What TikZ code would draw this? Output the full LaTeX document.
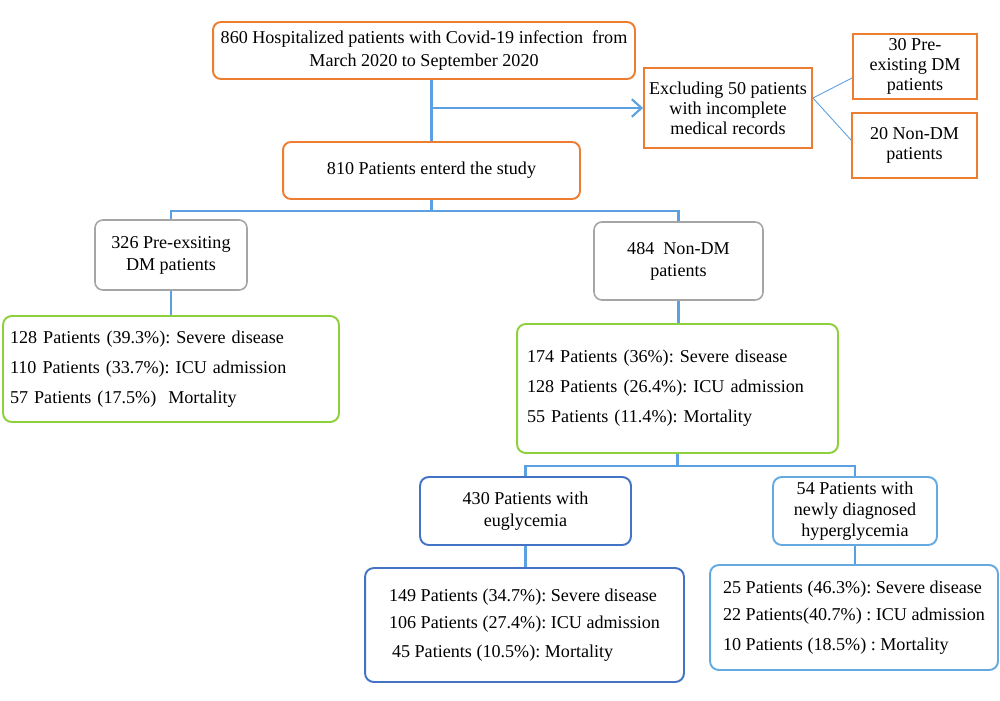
\documentclass[tikz,border=0pt]{standalone}
\usepackage{fontspec}
\setmainfont{Liberation Serif}
\frenchspacing
\usetikzlibrary{arrows.meta}
\definecolor{orng}{RGB}{237,125,49}
\definecolor{grybox}{RGB}{165,165,165}
\definecolor{grn}{RGB}{140,208,60}
\definecolor{dblue}{RGB}{68,114,196}
\definecolor{lblue}{RGB}{100,170,225}
\definecolor{conn}{RGB}{91,160,225}
\tikzset{
  every node/.style={font=\fontsize{10.3}{12.6}\selectfont, text=black},
  obox/.style={draw=orng, line width=1.1pt, rounded corners=4.5pt, align=center, inner sep=0pt},
  osq/.style={draw=orng, line width=1.1pt, align=center, inner sep=0pt, font=\fontsize{10.3}{11.4}\selectfont},
  gbox/.style={draw=grybox, line width=0.9pt, rounded corners=4.5pt, align=center, inner sep=0pt},
  grbox/.style={draw=grn, line width=1.1pt, rounded corners=5pt, align=left},
  dbbox/.style={draw=dblue, line width=1.1pt, rounded corners=5pt},
  lbbox/.style={draw=lblue, line width=1.1pt, rounded corners=5pt},
  link/.style={draw=conn, line width=1.2pt},
  thin/.style={draw=conn, line width=0.5pt},
}
\begin{document}
\begin{tikzpicture}[x=0.02cm, y=-0.02cm]
\useasboundingbox (0,0) rectangle (1000,700);
% top
\node[obox, minimum width=8.44cm, minimum height=1.14cm] (top) at (424,50.5)
  {860 Hospitalized patients with Covid-19 infection\ \ from\\March 2020 to September 2020};
\node[osq, minimum width=3.36cm, minimum height=1.6cm] (excl) at (728,108)
  {Excluding 50 patients\\with incomplete\\medical records};
\node[osq, minimum width=2.48cm, minimum height=1.3cm] (exdm) at (915,66.5)
  {30 Pre-\\existing DM\\patients};
\node[osq, minimum width=2.5cm, minimum height=1.3cm] (exnd) at (914.5,145.5)
  {20 Non-DM\\patients};
\node[obox, minimum width=5.94cm, minimum height=1.14cm] (study) at (431.5,170.5)
  {810 Patients enterd the study};
\node[gbox, minimum width=3.04cm, minimum height=1.4cm] (dm) at (171,255)
  {326 Pre-exsiting\\DM patients};
\node[gbox, minimum width=3.38cm, minimum height=1.56cm] (ndm) at (678.5,261)
  {484\ \ Non-DM\\patients};
\node[grbox, inner xsep=0.14cm, text width=6.44cm, minimum height=2.12cm] (dmres) at (171,369)
  {128 Patients (39.3\%): Severe disease\\[4.4pt]110 Patients (33.7\%): ICU admission\\[4.4pt]57 Patients (17.5\%)\ \ Mortality};
\node[grbox, inner xsep=0.2cm, text width=6.02cm, minimum height=2.58cm] (ndmres) at (677.5,388.5)
  {174 Patients (36\%): Severe disease\\[4.4pt]128 Patients (26.4\%): ICU admission\\[4.4pt]55 Patients (11.4\%): Mortality};
\node[dbbox, align=center, inner sep=0pt, minimum width=4.22cm, minimum height=1.36cm] (eu) at (525.5,511)
  {430 Patients with\\euglycemia};
\node[lbbox, align=center, inner sep=0pt, font=\fontsize{10.3}{12}\selectfont, minimum width=3.28cm, minimum height=1.36cm] (hyp) at (855,511)
  {54 Patients with\\newly diagnosed\\hyperglycemia};
\node[dbbox, align=left, inner sep=0pt, minimum width=6.38cm, minimum height=2.28cm] (eures) at (524.5,625)
  {149 Patients (34.7\%): Severe disease\\[2.7pt]106 Patients (27.4\%): ICU admission\\[3.8pt]\,45 Patients (10.5\%): Mortality};
\node[lbbox, align=left, inner sep=0pt, minimum width=5.76cm, minimum height=2.1cm] (hypres) at (854,617.5)
  {25 Patients (46.3\%): Severe disease\\[2.7pt]22 Patients(40.7\%) : ICU admission\\[4.3pt]10 Patients (18.5\%) : Mortality};
% connectors
\draw[link] (top.south -| study.north) -- (study.north);
\draw[link, -{Straight Barb[length=5.5pt,width=10pt]}] (study.north |- excl.west) -- (excl.west);
\coordinate (exo) at ([yshift=0.2cm]excl.east);
\draw[thin] (exo) -- ([yshift=-0.23cm]exdm.west);
\draw[thin] (exo) -- ([yshift=0.11cm]exnd.west);
\draw[link] (study.south) -- ++(0,11) coordinate (s1);
\draw[link] (dm.north) -- (dm.north |- s1) -- (ndm.north |- s1) -- (ndm.north);
\draw[link] (dm.south) -- (dmres.north);
\draw[link] (ndm.south) -- (ndm.south |- ndmres.north);
\draw[link] (ndmres.south) -- ++(0,12) coordinate (s2);
\draw[link] (eu.north) -- (eu.north |- s2) -- (hyp.north |- s2) -- (hyp.north);
\draw[link] (eu.south) -- (eu.south |- eures.north);
\draw[link] (hyp.south) -- (hyp.south |- hypres.north);
\end{tikzpicture}
\end{document}
